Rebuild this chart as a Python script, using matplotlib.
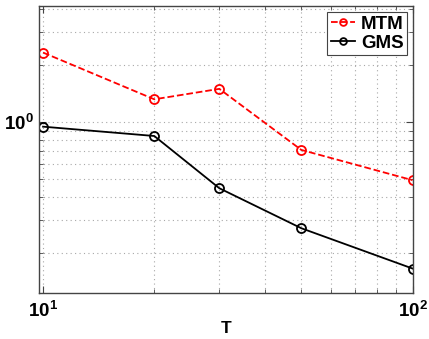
import math

import matplotlib

matplotlib.use("Agg")

import matplotlib.pyplot as plt
from matplotlib.ticker import FixedLocator, FuncFormatter, LogLocator, NullFormatter

plt.rcParams["font.family"] = ["Liberation Sans", "DejaVu Sans"]
plt.rcParams["font.weight"] = "bold"
plt.rcParams["mathtext.fontset"] = "custom"
plt.rcParams["mathtext.rm"] = "Liberation Sans:bold"
plt.rcParams["mathtext.bf"] = "Liberation Sans:bold"

# values
T = [10, 20, 30, 50, 100]
mtm = [2.34, 1.32, 1.50, 0.71, 0.49]
gms = [0.944, 0.842, 0.444, 0.272, 0.166]

fig = plt.figure(figsize=(4.29, 3.39), dpi=100)
ax = fig.add_axes([0.0909, 0.1357, 0.8718, 0.8466])

ax.plot(T, mtm, "--o", color="red", linewidth=1.3, markersize=6.5,
        markerfacecolor="none", markeredgewidth=1.3, label="MTM")
ax.plot(T, gms, "-o", color="black", linewidth=1.3, markersize=6.5,
        markerfacecolor="none", markeredgewidth=1.3, label="GMS")

ax.set_xscale("log")
ax.set_yscale("log")
ax.set_xlim(9.75, 100.3)
ax.set_ylim(0.123, 4.14)

ax.xaxis.set_major_locator(FixedLocator([10, 100]))
ax.yaxis.set_major_locator(FixedLocator([1]))
ax.xaxis.set_minor_locator(LogLocator(base=10, subs=range(2, 10)))
ax.yaxis.set_minor_locator(LogLocator(base=10, subs=range(1, 10)))
ax.xaxis.set_minor_formatter(NullFormatter())
ax.yaxis.set_minor_formatter(NullFormatter())
fmt = FuncFormatter(lambda v, pos: r"$\mathbf{10^{%d}}$" % round(math.log10(v)))
ax.xaxis.set_major_formatter(fmt)
ax.yaxis.set_major_formatter(fmt)

ax.grid(True, which="both", linestyle=(0, (1, 3)), color="#a8a8a8", linewidth=0.8)
ax.tick_params(which="both", direction="in", top=True, right=True,
               labelsize=13.5, color="#444444")
ax.tick_params(axis="x", which="major", pad=6)
ax.tick_params(axis="y", which="major", pad=4)
ax.tick_params(which="major", length=5)
ax.tick_params(which="minor", length=3)
for s in ax.spines.values():
    s.set_color("#444444")
    s.set_linewidth(1.0)

ax.set_xlabel("T", fontsize=12.5, fontweight="bold", labelpad=0)

leg = ax.legend(loc="upper right", fontsize=13.5, handlelength=1.3,
                handletextpad=0.3, borderpad=0.2, labelspacing=0.1,
                borderaxespad=0.3, fancybox=False, framealpha=1,
                markerscale=0.75)
leg.get_frame().set_edgecolor("#444444")
leg.get_frame().set_linewidth(0.8)

fig.savefig("out.png", dpi=100)
